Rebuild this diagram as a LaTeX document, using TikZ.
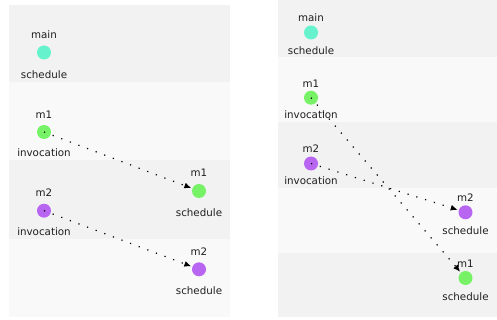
\documentclass[tikz,border=0pt]{standalone}
\usepackage{fontspec}
\setmainfont{DejaVu Sans}
\usetikzlibrary{arrows.meta}
\definecolor{bandA}{HTML}{F2F2F2}
\definecolor{bandB}{HTML}{F9F9F9}
\definecolor{cMain}{HTML}{66F2CC}
\definecolor{cMone}{HTML}{77F266}
\definecolor{cMtwo}{HTML}{B866F2}
\begin{document}
\begin{tikzpicture}[x=1pt,y=-1pt,
  ev/.style={circle,minimum size=14pt,inner sep=0pt,fill=#1},
  lbl/.style={anchor=base,inner sep=0pt,font=\fontsize{10.3}{12}\selectfont,text=black!88},
  conn/.style={line width=1.2pt,dash pattern=on 1.2pt off 8pt,-{Latex[length=7pt,width=6pt]},shorten >=1pt}]
\useasboundingbox (0,0) rectangle (497,320);
% left panel bands
\fill[bandA] (9,5) rectangle (230,82);
\fill[bandB] (9,82) rectangle (230,160);
\fill[bandA] (9,160) rectangle (230,239);
\fill[bandB] (9,239) rectangle (230,317);
% right panel bands
\fill[bandA] (278,0) rectangle (497,57);
\fill[bandB] (278,57) rectangle (497,122);
\fill[bandA] (278,122) rectangle (497,188);
\fill[bandB] (278,188) rectangle (497,253);
\fill[bandA] (278,253) rectangle (497,317);

% left panel nodes
\node[ev=cMain] (Lmain) at (44,52.5) {};
\node[lbl] (LmainT) at (44,38.5) {main};
\node[lbl] (LmainB) at (44,78.3) {schedule};

\node[ev=cMone] (Lm1i) at (44,132) {};
\node[lbl] (Lm1iT) at (44,119) {m1};
\node[lbl] (Lm1iB) at (44,157) {invocation};

\node[ev=cMone] (Lm1s) at (199,191) {};
\node[lbl] (Lm1sT) at (199,177) {m1};
\node[lbl] (Lm1sB) at (199,216) {schedule};

\node[ev=cMtwo] (Lm2i) at (44,210.7) {};
\node[lbl] (Lm2iT) at (44,196.5) {m2};
\node[lbl] (Lm2iB) at (44,235.3) {invocation};

\node[ev=cMtwo] (Lm2s) at (199,269.3) {};
\node[lbl] (Lm2sT) at (199,255.5) {m2};
\node[lbl] (Lm2sB) at (199,294.3) {schedule};

% right panel nodes
\node[ev=cMain] (Rmain) at (311,32.5) {};
\node[lbl] (RmainT) at (311,21.3) {main};
\node[lbl] (RmainB) at (311,54.3) {schedule};

\node[ev=cMone] (Rm1i) at (311,97.7) {};
\node[lbl] (Rm1iT) at (311,87.3) {m1};
\node[lbl] (Rm1iB) at (311,119) {invocation};

\node[ev=cMtwo] (Rm2i) at (311,163.5) {};
\node[lbl] (Rm2iT) at (311,152.7) {m2};
\node[lbl] (Rm2iB) at (311,185) {invocation};

\node[ev=cMtwo] (Rm2s) at (465.5,212.3) {};
\node[lbl] (Rm2sT) at (465.5,202) {m2};
\node[lbl] (Rm2sB) at (465.5,234) {schedule};

\node[ev=cMone] (Rm1s) at (465.5,278) {};
\node[lbl] (Rm1sT) at (465.5,267.3) {m1};
\node[lbl] (Rm1sB) at (465.5,300) {schedule};

% connectors
\draw[conn] (Lm1i.center) -- (Lm1s);
\draw[conn] (Lm2i.center) -- (Lm2s);
\draw[conn] (Rm1i.center) -- (Rm1s);
\draw[conn] (Rm2i.center) -- (Rm2s);
\end{tikzpicture}
\end{document}
